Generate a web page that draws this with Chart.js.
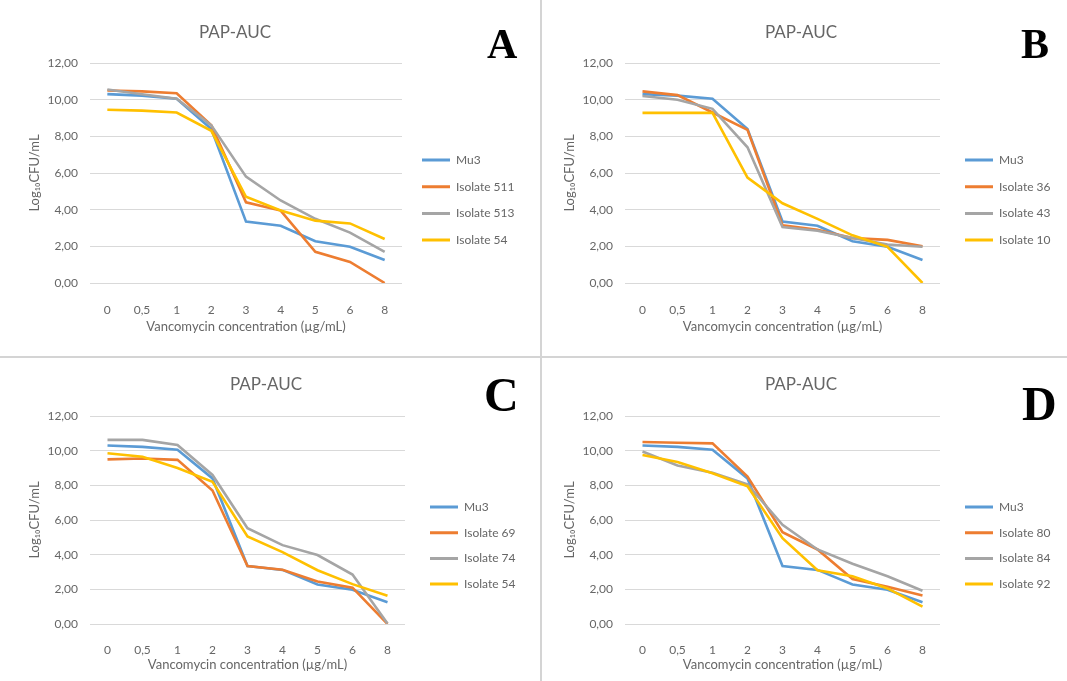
<!DOCTYPE html>
<html>
<head>
<meta charset="utf-8">
<script src="https://cdn.jsdelivr.net/npm/chart.js@4.4.1/dist/chart.umd.min.js"></script>
<style>
  html, body { margin: 0; background: #fff; }
  #fig { position: relative; width: 1067px; height: 681px; overflow: hidden; background: #fff; }
  #fig canvas { position: absolute; }
  .letter { position: absolute; font-family: "Liberation Serif", "DejaVu Serif", serif; font-weight: bold; line-height: 1; color: #000; }
  .rule { position: absolute; background: #d4d4d4; }
</style>
</head>
<body>
<div id="fig">
  <canvas id="chartA" width="574" height="350" style="left:-52px;top:0"></canvas>
  <canvas id="chartB" width="518" height="350" style="left:542px;top:0"></canvas>
  <canvas id="chartC" width="518" height="324" style="left:7px;top:357px"></canvas>
  <canvas id="chartD" width="518" height="324" style="left:542px;top:357px"></canvas>
  <div class="rule" style="left:540px;top:0;width:2px;height:681px"></div>
  <div class="rule" style="left:0;top:356px;width:1067px;height:2px"></div>
  <div class="letter" style="left:487px;top:23px;font-size:42px">A</div>
  <div class="letter" style="left:1021px;top:23px;font-size:42px">B</div>
  <div class="letter" style="left:484px;top:371px;font-size:48px">C</div>
  <div class="letter" style="left:1022px;top:380px;font-size:48px">D</div>
</div>
<script>
// vancomycin concentrations (µg/mL), shared by all four panels
const concLabels = ['0', '0,5', '1', '2', '3', '4', '5', '6', '8'];

// Mu3 reference strain (same curve in every panel)
const mu3 = [10.3, 10.22, 10.05, 8.4, 3.35, 3.12, 2.28, 1.98, 1.25];

// Panel A
const namesA = ['Mu3', 'Isolate 511', 'Isolate 513', 'Isolate 54'];
const iso511 = [10.5, 10.45, 10.35, 8.6, 4.4, 3.95, 1.7, 1.15, 0];
const iso513 = [10.55, 10.3, 10.05, 8.6, 5.8, 4.5, 3.5, 2.75, 1.7];
const iso54a = [9.45, 9.4, 9.3, 8.3, 4.7, 3.95, 3.4, 3.25, 2.4];

// Panel B
const namesB = ['Mu3', 'Isolate 36', 'Isolate 43', 'Isolate 10'];
const iso36 = [10.45, 10.25, 9.3, 8.35, 3.15, 2.9, 2.45, 2.35, 2.0];
const iso43 = [10.2, 10.0, 9.5, 7.4, 3.05, 2.85, 2.45, 2.1, 1.98];
const iso10 = [9.28, 9.28, 9.28, 5.75, 4.35, 3.5, 2.6, 1.97, 0];

// Panel C
const namesC = ['Mu3', 'Isolate 69', 'Isolate 74', 'Isolate 54'];
const iso69 = [9.5, 9.55, 9.47, 7.7, 3.35, 3.13, 2.45, 2.1, 0];
const iso74 = [10.62, 10.62, 10.33, 8.6, 5.53, 4.55, 3.98, 2.85, 0.03];
const iso54c = [9.85, 9.65, 9.0, 8.2, 5.05, 4.15, 3.1, 2.3, 1.63];

// Panel D
const namesD = ['Mu3', 'Isolate 80', 'Isolate 84', 'Isolate 92'];
const iso80 = [10.5, 10.46, 10.42, 8.5, 5.3, 4.3, 2.6, 2.15, 1.65];
const iso84 = [9.95, 9.15, 8.72, 8.05, 5.72, 4.3, 3.48, 2.75, 1.92];
const iso92 = [9.75, 9.35, 8.7, 7.95, 4.95, 3.1, 2.75, 2.05, 1.0];

const seriesColors = ['#5b9bd5', '#ed7d31', '#a5a5a5', '#ffc000'];
const textGray = '#666666';
const family = 'Lato, "Open Sans", sans-serif';

// keeps the legend at a fixed width and puts its first entry where the original has it
const legendPlace = {
  id: 'legendPlace',
  beforeLayout(chart, args, opts) {
    const lg = chart.legend;
    if (!lg || lg._fixedFit) return;
    const fit = lg.fit;
    lg.fit = function () { fit.call(this); this.width = opts.width; };
    lg._fixedFit = true;
  },
  afterLayout(chart, args, opts) {
    const lg = chart.legend;
    const pad = lg.options.labels.padding;
    const fs = lg.options.labels.font.size;
    const w = lg.width, h = lg.height;
    lg.left = opts.x - pad; lg.right = lg.left + w;
    lg.top = opts.y - pad - fs / 2; lg.bottom = lg.top + h;
  }
};

function makeChart(id, names, series, lay) {
  return new Chart(document.getElementById(id), {
    type: 'line',
    data: {
      labels: concLabels,
      datasets: series.map((d, i) => ({
        label: names[i],
        data: d,
        borderColor: seriesColors[i],
        backgroundColor: seriesColors[i],
        borderWidth: 2.6,
        pointRadius: 0,
        tension: 0,
        fill: false,
        order: series.length - i
      }))
    },
    options: {
      responsive: false,
      animation: false,
      layout: { padding: 0 },
      plugins: {
        title: {
          display: true, text: 'PAP-AUC', color: textGray,
          font: { family, size: 17, weight: 'normal' },
          padding: { top: lay.titleTop, bottom: lay.titleBottom }
        },
        legend: {
          position: 'right', align: 'start',
          labels: {
            color: textGray, font: { family, size: 12 },
            boxWidth: 28, boxHeight: 3, padding: lay.legendGap,
            sort: (a, b) => a.datasetIndex - b.datasetIndex,
            generateLabels: ch => Chart.defaults.plugins.legend.labels.generateLabels(ch)
              .map(l => Object.assign(l, { lineWidth: 0 }))
          }
        },
        tooltip: { enabled: false },
        legendPlace: { width: 120, x: lay.legendX, y: lay.legendY }
      },
      scales: {
        x: {
          offset: true,
          grid: { display: false },
          border: { display: false },
          ticks: { color: textGray, font: { family, size: 12 }, padding: lay.xTickPad },
          title: {
            display: true, text: 'Vancomycin concentration (µg/mL)', color: textGray,
            font: { family, size: 13 }, padding: { top: 0, bottom: lay.xTitleBottom }
          },
          afterFit: s => { s.height = lay.xHeight; }
        },
        y: {
          min: 0, max: 12,
          grid: { color: '#d9d9d9', drawTicks: false },
          border: { display: false },
          ticks: {
            stepSize: 2, padding: 12, color: textGray, font: { family, size: 12 },
            callback: v => v.toFixed(2).replace('.', ',')
          },
          title: {
            display: true, text: 'Log₁₀CFU/mL', color: textGray,
            font: { family, size: 13 }, padding: { top: lay.yTitlePad, bottom: 0 }
          },
          afterFit: s => { s.width = lay.yWidth; }
        }
      }
    },
    plugins: [legendPlace]
  });
}

const topRow = { titleTop: 22.8, titleBottom: 19.8, xHeight: 67, xTickPad: 12, xTitleBottom: 15.2, legendGap: 14.7, legendY: 160 };
const bottomRow = { titleTop: 17.8, titleBottom: 20.8, xHeight: 57, xTickPad: 11, xTitleBottom: 8.2, legendGap: 13.7, legendY: 150 };

makeChart('chartA', namesA, [mu3, iso511, iso513, iso54a],
  Object.assign({}, topRow, { yWidth: 142, yTitlePad: 79.2, legendX: 474 }));
makeChart('chartB', namesB, [mu3, iso36, iso43, iso10],
  Object.assign({}, topRow, { yWidth: 83, yTitlePad: 20.2, legendX: 423 }));
makeChart('chartC', namesC, [mu3, iso69, iso74, iso54c],
  Object.assign({}, bottomRow, { yWidth: 83, yTitlePad: 20.2, legendX: 423 }));
makeChart('chartD', namesD, [mu3, iso80, iso84, iso92],
  Object.assign({}, bottomRow, { yWidth: 83, yTitlePad: 20.2, legendX: 423 }));
</script>
</body>
</html>
